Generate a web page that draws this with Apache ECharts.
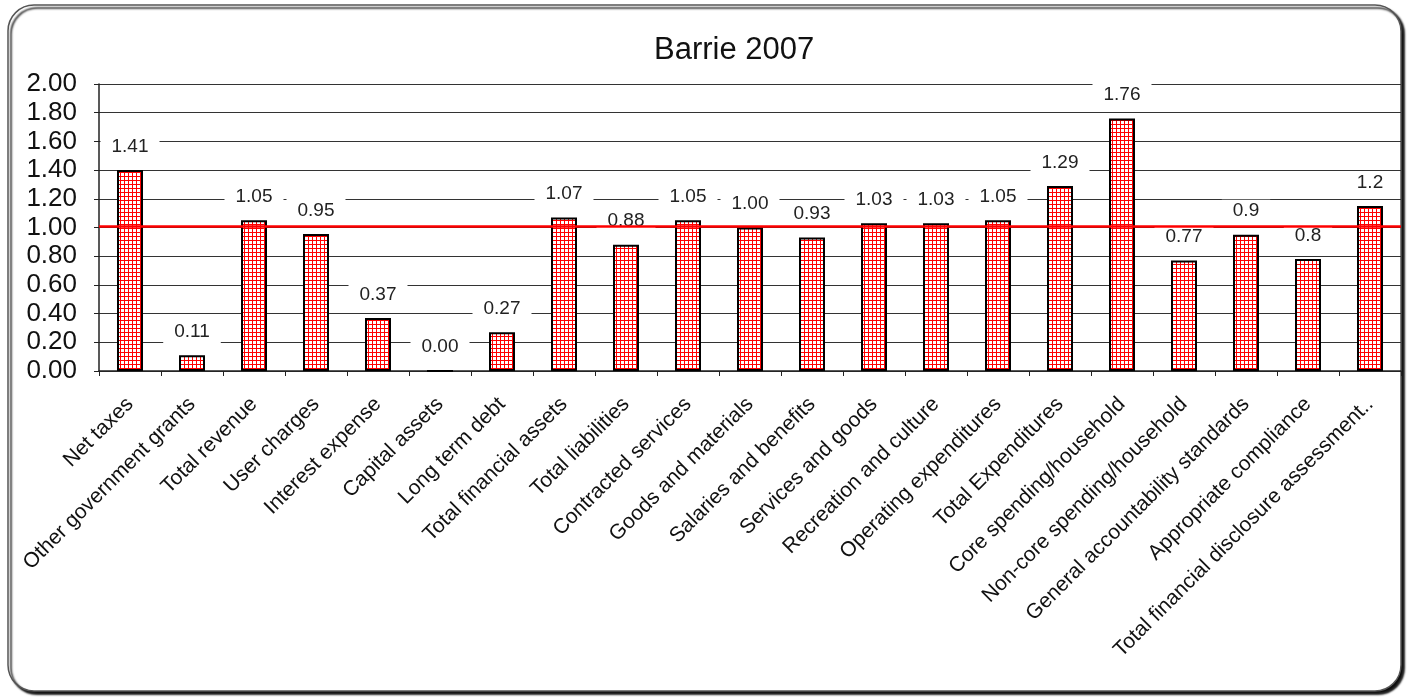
<!DOCTYPE html>
<html>
<head>
<meta charset="utf-8">
<script src="https://cdn.jsdelivr.net/npm/echarts@6/dist/echarts.min.js"></script>
<style>
html,body{margin:0;padding:0;background:#fff;}
#chart{width:1408px;height:697px;}
</style>
</head>
<body>
<div id="chart"></div>
<script>
const categories = [
  'Net taxes','Other government grants','Total revenue','User charges','Interest expense',
  'Capital assets','Long term debt','Total financial assets','Total liabilities','Contracted services',
  'Goods and materials','Salaries and benefits','Services and goods','Recreation and culture',
  'Operating expenditures','Total Expenditures','Core spending/household','Non-core spending/household',
  'General accountability standards','Appropriate compliance','Total financial disclosure assessment..'
];
const barValues = [1.40,0.11,1.05,0.955,0.37,0,0.27,1.07,0.88,1.05,1.00,0.93,1.03,1.03,1.05,1.29,1.76,0.77,0.95,0.78,1.15];
const labelTexts = ['1.41','0.11','1.05','0.95','0.37','0.00','0.27','1.07','0.88','1.05','1.00','0.93','1.03','1.03','1.05','1.29','1.76','0.77','0.9','0.8','1.2'];
const yTicks = {min:0, max:2, interval:0.2};
const referenceValue = 1.01;

const pat = document.createElement('canvas');
pat.width = 4; pat.height = 4;
const ctx = pat.getContext('2d');
ctx.fillStyle = '#ffffff'; ctx.fillRect(0,0,4,4);
ctx.fillStyle = '#ff0000'; ctx.fillRect(0,0,4,1); ctx.fillRect(0,0,1,4);

const chart = echarts.init(document.getElementById('chart'));
chart.setOption({
  animation: false,
  backgroundColor: '#fff',
  graphic: [{
    type: 'rect', z: -10, silent: true,
    shape: {x: 8, y: 5, width: 1393, height: 686, r: 26},
    style: {fill: '#fff', stroke: '#555', lineWidth: 1.5,
      shadowColor: 'rgba(0,0,0,0.95)', shadowOffsetX: 3, shadowOffsetY: 3, shadowBlur: 2}
  }],
  title: {
    text: 'Barrie 2007', left: 649, top: 30,
    textStyle: {fontFamily: 'Liberation Sans', fontSize: 31, fontWeight: 'normal', color: '#111'}
  },
  grid: {left: 99, right: 7, top: 84, bottom: 326, containLabel: false},
  xAxis: {
    type: 'category', data: categories,
    axisLine: {lineStyle: {color: '#222', width: 1.5}},
    axisTick: {show: true, length: 5, lineStyle: {color: '#222'}},
    axisLabel: {rotate: 45, interval: 0, margin: 30, fontFamily: 'Liberation Sans', fontSize: 21, color: '#111'}
  },
  yAxis: {
    type: 'value', min: yTicks.min, max: yTicks.max, interval: yTicks.interval,
    axisLine: {show: true, lineStyle: {color: '#222', width: 1.5}},
    axisTick: {show: true, length: 5, lineStyle: {color: '#222'}},
    axisLabel: {margin: 22, fontFamily: 'Liberation Sans', fontSize: 26, color: '#111',
      formatter: v => v.toFixed(2)},
    splitLine: {lineStyle: {color: '#333', width: 1.2}}
  },
  series: [{
    type: 'bar', data: barValues, barWidth: 26, z: 2,
    itemStyle: {color: {image: pat, repeat: 'repeat'}, borderColor: '#000', borderWidth: 2},
    label: {
      show: true, position: 'top', distance: 12,
      formatter: p => labelTexts[p.dataIndex],
      fontFamily: 'Liberation Sans', fontSize: 19, color: '#222',
      backgroundColor: '#fff', padding: [2, 11]
    }
  }, {
    type: 'line', data: [], z: 10,
    markLine: {
      silent: true, symbol: 'none', label: {show: false},
      lineStyle: {color: '#ff0000', width: 2.5, type: 'solid'},
      data: [{yAxis: referenceValue}]
    }
  }]
});
</script>
</body>
</html>
